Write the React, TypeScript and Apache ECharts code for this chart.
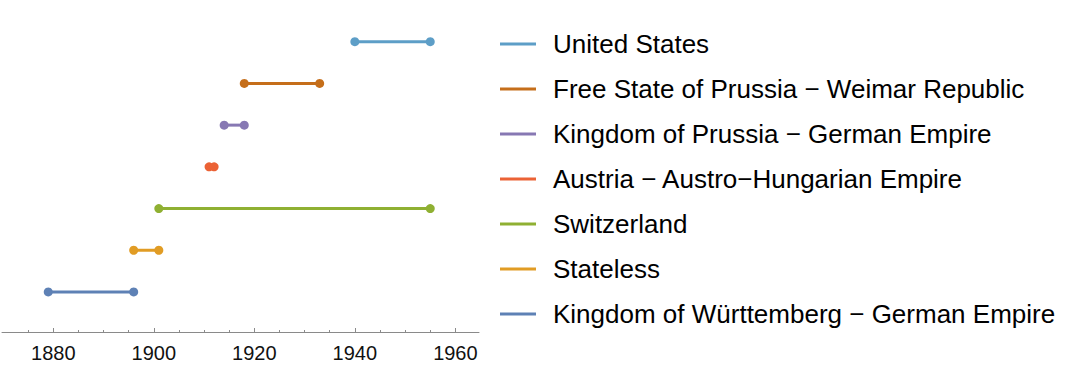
import React, { useEffect, useRef } from "react";
import * as echarts from "echarts";

const names = [
  "Kingdom of Württemberg − German Empire",
  "Stateless",
  "Switzerland",
  "Austria − Austro−Hungarian Empire",
  "Kingdom of Prussia − German Empire",
  "Free State of Prussia − Weimar Republic",
  "United States",
];
const starts = [1879, 1896, 1901, 1911, 1914, 1918, 1940];
const ends = [1896, 1901, 1955, 1912, 1918, 1933, 1955];
const colors = ["#5e81b5", "#e19c24", "#8fb032", "#eb6235", "#8778b3", "#c56e1a", "#5d9ec7"];
const majorTicks = [1880, 1900, 1920, 1940, 1960];
const minorTicks = [1875, 1885, 1890, 1895, 1905, 1910, 1915, 1925, 1930, 1935, 1945, 1950, 1955];

export default function App() {
  const ref = useRef<HTMLDivElement>(null);
  useEffect(() => {
    const chart = echarts.init(ref.current!, null, { renderer: "svg" });
    const xMin = 1869.8;
    const xMax = 1964.7;
    chart.setOption({
      animation: false,
      grid: { left: 2, right: 590, top: 0, bottom: 33 },
      xAxis: [
        {
          type: "value",
          min: xMin,
          max: xMax,
          splitLine: { show: false },
          axisLine: { show: true, onZero: false, lineStyle: { color: "#8a8a8a", width: 1 } },
          axisTick: { show: true, inside: true, length: 4, customValues: majorTicks, lineStyle: { color: "#8a8a8a" } },
          axisLabel: {
            customValues: majorTicks,
            color: "#111",
            fontSize: 20,
            fontFamily: "Liberation Sans, Arial, sans-serif",
            margin: 11,
            formatter: (v: number) => String(v),
          },
        },
        {
          type: "value",
          min: xMin,
          max: xMax,
          position: "bottom",
          splitLine: { show: false },
          axisLine: { show: false, onZero: false },
          axisTick: { show: true, inside: true, length: 2, customValues: minorTicks, lineStyle: { color: "#8a8a8a" } },
          axisLabel: { show: false },
        },
      ],
      yAxis: {
        type: "value",
        min: -0.96,
        max: 7,
        show: false,
      },
      legend: {
        orient: "vertical",
        left: 500,
        top: 31,
        padding: 0,
        itemWidth: 36,
        itemHeight: 3,
        itemGap: 19,
        icon: "rect",
        data: names.slice().reverse(),
        textStyle: {
          fontSize: 26,
          lineHeight: 26,
          color: "#000",
          fontFamily: "Liberation Sans, Arial, sans-serif",
          padding: [0, 0, 0, 12],
        },
      },
      series: names.map((n, i) => ({
        name: n,
        type: "line",
        color: colors[i],
        xAxisIndex: 0,
        data: [
          [starts[i], i],
          [ends[i], i],
        ],
        symbol: "circle",
        symbolSize: 9,
        lineStyle: { width: 3, color: colors[i] },
        itemStyle: { color: colors[i] },
      })),
    });
    return () => chart.dispose();
  }, []);
  return <div ref={ref} style={{ width: 1069, height: 365, position: "absolute", left: 0, top: 0 }} />;
}
